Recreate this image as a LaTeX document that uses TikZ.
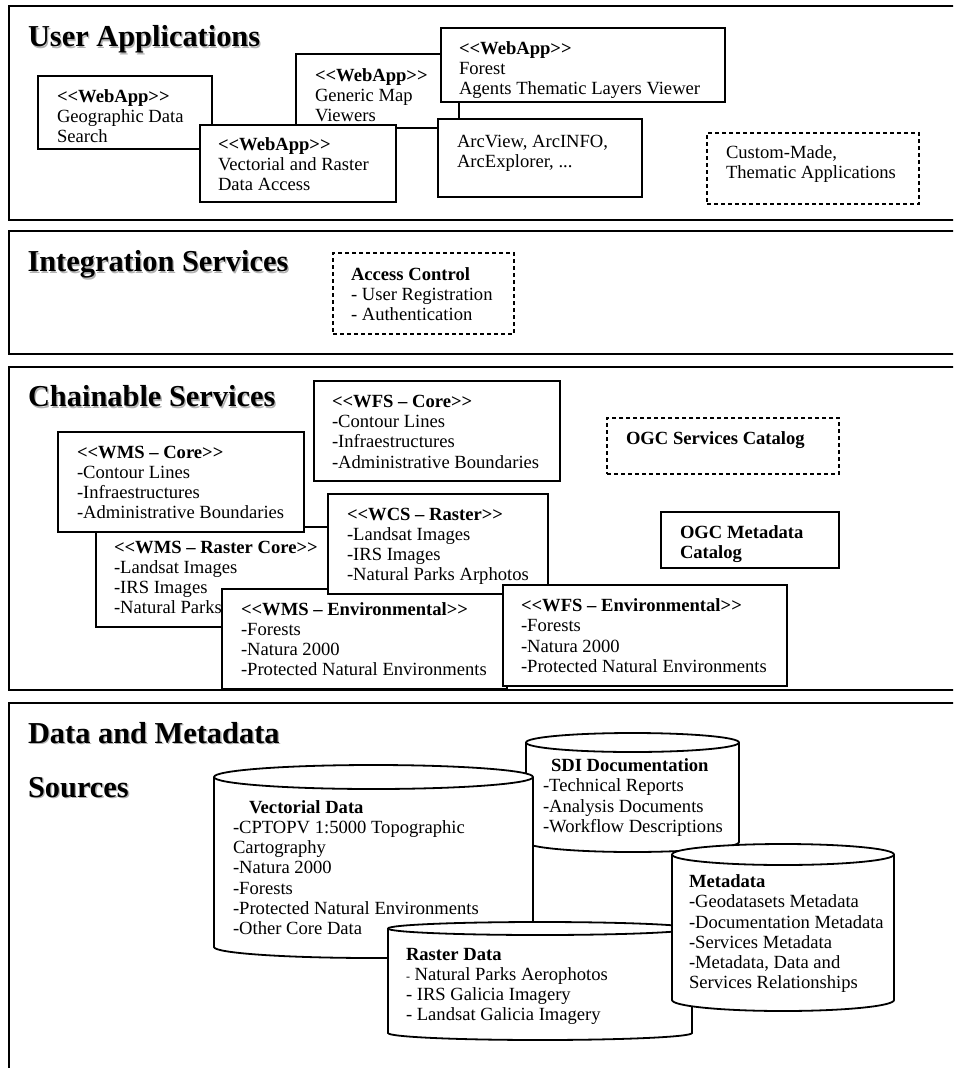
\documentclass[tikz,border=0pt]{standalone}
\usepackage{fontspec}
\setmainfont{Liberation Serif}[Ligatures=TeXOff]
\newcommand\blk[1]{\begin{tabular}[t]{@{}l@{}}#1\end{tabular}}
\newcommand\rbox[6][appbox]{\node[#1,anchor=north west,inner sep=0pt,outer sep=0pt,minimum width=#5pt,minimum height=#6pt] (#2) at (#3,#4) {};}
\newcommand\hd[4]{\node[head,text=black!30] (#1s) at ([xshift=1.3pt,yshift=-1.3pt]#2,#3) {#4};\node[head] (#1) at (#2,#3) {#4};}
\newcommand\cylpath[8]{% name x1 x2 yc ryt yb rx ryb
  \path[cyl] (#2,#4) -- (#2,#6) arc[start angle=180,end angle=360,x radius=#7pt,y radius=#8pt] -- (#3,#4) arc[start angle=0,end angle=180,x radius=#7pt,y radius=#5pt] -- cycle;
  \draw[cylline] (#2,#4) arc[start angle=180,end angle=360,x radius=#7pt,y radius=#5pt];
  \coordinate (#1) at (#2,#4);}
\tikzset{
  outer/.style={draw,line width=2.2pt},
  appbox/.style={draw,fill=white,line width=1.2pt},
  dbox/.style={appbox,dash pattern=on 4pt off 3pt},
  txt/.style={inner sep=0pt,outer sep=0pt,anchor=base west,font=\fontsize{18.6}{20.2}\selectfont},
  head/.style={inner sep=0pt,outer sep=0pt,anchor=base west,font=\fontsize{30.4}{34}\selectfont\bfseries},
  cyl/.style={draw,fill=white,line width=1.8pt},
  cylline/.style={draw,line width=1.8pt},
}
\begin{document}
\begin{tikzpicture}[x=1pt,y=-1pt]
\useasboundingbox (0,0) rectangle (953,1068);
\clip (0,0) rectangle (953,1068);
\fill[white] (0,0) rectangle (953,1068);
% ---------- outer layers
\draw[outer] (9,6) rectangle (975,220);
\draw[outer] (9,231) rectangle (975,354);
\draw[outer] (9,367) rectangle (975,690);
\draw[outer] (9,703) rectangle (975,1090);
% ---------- headings
\hd{hUA}{28}{46.7}{User Applications}
\hd{hIS}{27.5}{271.7}{Integration Services}
\hd{hCS}{28}{406.7}{Chainable Services}
\hd{hDM}{28}{743}{Data and Metadata}
\hd{hSO}{28}{797}{Sources}
% ---------- user applications
\rbox{gds}{38}{76}{174}{73}
\node[txt] (gdsT) at (57,102) {\blk{\textbf{<<WebApp>>}\\Geographic Data\\Search}};
\rbox{gmv}{296}{54}{163}{74}
\node[txt] (gmvT) at (315,81) {\blk{\textbf{<<WebApp>>}\\Generic Map\\Viewers}};
\rbox{vrd}{200}{125}{196}{77}
\node[txt] (vrdT) at (218,150) {\blk{\textbf{<<WebApp>>}\\Vectorial and Raster\\Data Access}};
\rbox{for}{441}{28}{284}{74}
\node[txt] (forT) at (459,54) {\blk{\textbf{<<WebApp>>}\\Forest\\Agents Thematic Layers Viewer}};
\rbox{arc}{438}{119}{204}{78}
\node[txt] (arcT) at (457,147) {\blk{ArcView, ArcINFO,\\ArcExplorer, ...}};
\rbox[dbox]{cus}{707}{133}{212}{71}
\node[txt] (cusT) at (726,158.5) {\blk{Custom-Made,\\Thematic Applications}};
% ---------- integration services
\rbox[dbox]{ac}{333}{253}{181}{81}
\node[txt] (acT) at (351,280) {\blk{\textbf{Access Control}\\- User Registration\\- Authentication}};
% ---------- chainable services
\rbox{wmsr}{96}{527}{300}{100}
\node[txt] (wmsrT) at (114,553.3) {\blk{\textbf{<<WMS – Raster Core>>}\\-Landsat Images\\-IRS Images\\-Natural Parks}};
\rbox{wmsc}{58}{432}{246}{100}
\node[txt] (wmscT) at (77,458.3) {\blk{\textbf{<<WMS – Core>>}\\-Contour Lines\\-Infraestructures\\-Administrative Boundaries}};
\rbox{wfsc}{314}{381}{246}{100}
\node[txt] (wfscT) at (332,407.5) {\blk{\textbf{<<WFS – Core>>}\\-Contour Lines\\-Infraestructures\\-Administrative Boundaries}};
\rbox{wmse}{222}{589}{285}{100}
\node[txt] (wmseT) at (241,615) {\blk{\textbf{<<WMS – Environmental>>}\\-Forests\\-Natura 2000\\-Protected Natural Environments}};
\rbox{wcs}{328}{494}{220}{100}
\node[txt] (wcsT) at (347,520) {\blk{\textbf{<<WCS – Raster>>}\\-Landsat Images\\-IRS Images\\-Natural Parks Arphotos}};
\rbox{wfse}{503}{585}{284}{101}
\node[txt] (wfseT) at (521,611.7) {\blk{\textbf{<<WFS – Environmental>>}\\-Forests\\-Natura 2000\\-Protected Natural Environments}};
\rbox[dbox]{ogcs}{607}{418}{232}{56}
\node[txt] (ogcsT) at (626,444.3) {\textbf{OGC Services Catalog}};
\rbox{ogcm}{661}{512}{178}{56}
\node[txt] (ogcmT) at (680,538.3) {\blk{\textbf{OGC Metadata}\\\textbf{Catalog}}};
% ---------- data and metadata sources
\cylpath{sdi}{526}{739}{742.5}{9.5}{842}{106.5}{10}
\node[txt] (sdiT) at (543,771.7) {\blk{\hspace*{8pt}\textbf{SDI Documentation}\\-Technical Reports\\-Analysis Documents\\-Workflow Descriptions}};
\cylpath{vec}{214}{533}{777}{12}{947}{159.5}{11}
\node[txt] (vecT) at (233,813.3) {\blk{\hspace*{16pt}\textbf{Vectorial Data}\\-CPTOPV 1:5000 Topographic\\Cartography\\-Natura 2000\\-Forests\\-Protected Natural Environments\\-Other Core Data}};
\cylpath{ras}{388}{692}{928.5}{6.5}{1033}{152}{7}
\node[txt] (rasT) at (406,960) {\blk{\textbf{Raster Data}\\{\fontsize{12}{12}\selectfont-} Natural Parks Aerophotos\\- IRS Galicia Imagery\\- Landsat Galicia Imagery}};
\cylpath{met}{672}{894}{854.5}{10.5}{1000}{111}{11}
\node[txt] (metT) at (689,887.7) {\blk{\textbf{Metadata}\\-Geodatasets Metadata\\-Documentation Metadata\\-Services Metadata\\-Metadata, Data and\\Services Relationships}};
\end{tikzpicture}
\end{document}
